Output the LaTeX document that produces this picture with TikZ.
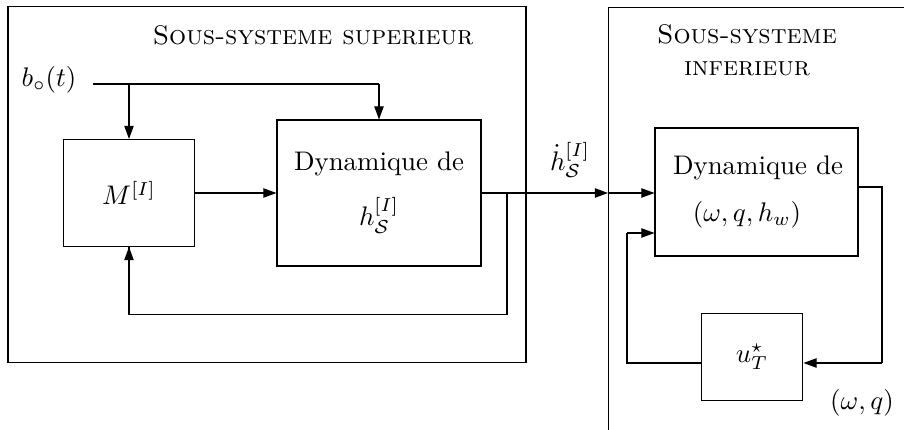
\documentclass[tikz,border=0pt]{standalone}
\usetikzlibrary{arrows.meta}
\begin{document}
\begin{tikzpicture}[x=0.372pt,y=-0.372pt,
  blk/.style={draw, line width=0.4pt, inner sep=0pt},
  lbl/.style={inner sep=0pt},
  arr/.style={-{Triangle[length=4.9pt,width=3.5pt]}, line width=0.4pt},
  ln/.style={line width=0.4pt}]
\useasboundingbox (0,0) rectangle (904,430);
\clip (0,0) rectangle (904,430);
% outer boxes
\node[blk, minimum width=192.7pt, minimum height=132.1pt] (sup) at (267,184.5) {};
\node[blk, minimum width=120pt, minimum height=170pt, anchor=north west] (inf) at (608,7) {};
\node[lbl] (tsup) at (313,35) {\textsc{Sous-systeme superieur}};
\node[lbl, align=center] (tinf) at (747,50) {\textsc{Sous-systeme}\\\textsc{inferieur}};
% upper subsystem
\node[lbl] (b) at (49,80) {$b_\circ(t)$};
\node[blk, minimum width=48.4pt, minimum height=39.8pt] (M) at (129,193) {$M^{[I]}$};
\node[blk, minimum width=75.9pt, minimum height=54.3pt, align=center] (D1) at (379,193) {Dynamique de\\[7pt]$h_{\mathcal{S}}^{[I]}$};
\coordinate (bs) at (93,84);
\coordinate (bm) at (129,84);
\coordinate (bd) at (379,84);
\draw[ln] (bs) -- (bd);
\draw[arr] (bm) -- (M.north);
\draw[arr] (bd) -- (D1.north);
\draw[arr] (M.east) -- (D1.west);
% connection between subsystems
\coordinate (edge) at (608,193);
\coordinate (fbx) at (507,193);
\coordinate (fby) at (507,314.5);
\draw[arr] (D1.east) -- (edge);
\draw[ln] (fbx) -- (fby) -| (M.south);
\draw[arr] (fby -| M.south) -- (M.south);
\node[lbl] (hdot) at (570,160) {$\dot h_{\mathcal{S}}^{[I]}$};
% lower subsystem
\node[blk, minimum width=75.5pt, minimum height=47.6pt] (D2) at (756.5,192) {};
\node[lbl] (D2a) at (758,168) {Dynamique de};
\node[lbl] (D2b) at (747,215) {$(\omega,q,h_w)$};
\draw[arr] (edge) -- (edge -| D2.west);
\node[blk, minimum width=37.9pt, minimum height=32.4pt] (U) at (752,357) {$u_T^\star$};
\coordinate (o1) at (858,187);
\coordinate (o2) at (882,187);
\coordinate (o3) at (882,363);
\coordinate (i1) at (701,363);
\coordinate (i2) at (627,363);
\coordinate (i3) at (627,233);
\draw[ln] (o1) -- (o2) -- (o3);
\draw[arr] (o3) -- (o3 -| U.east);
\draw[ln] (i1) -- (i2) -- (i3);
\draw[arr] (i3) -- (i3 -| D2.west);
\node[lbl] (wq) at (862,403) {$(\omega,q)$};
\end{tikzpicture}
\end{document}
